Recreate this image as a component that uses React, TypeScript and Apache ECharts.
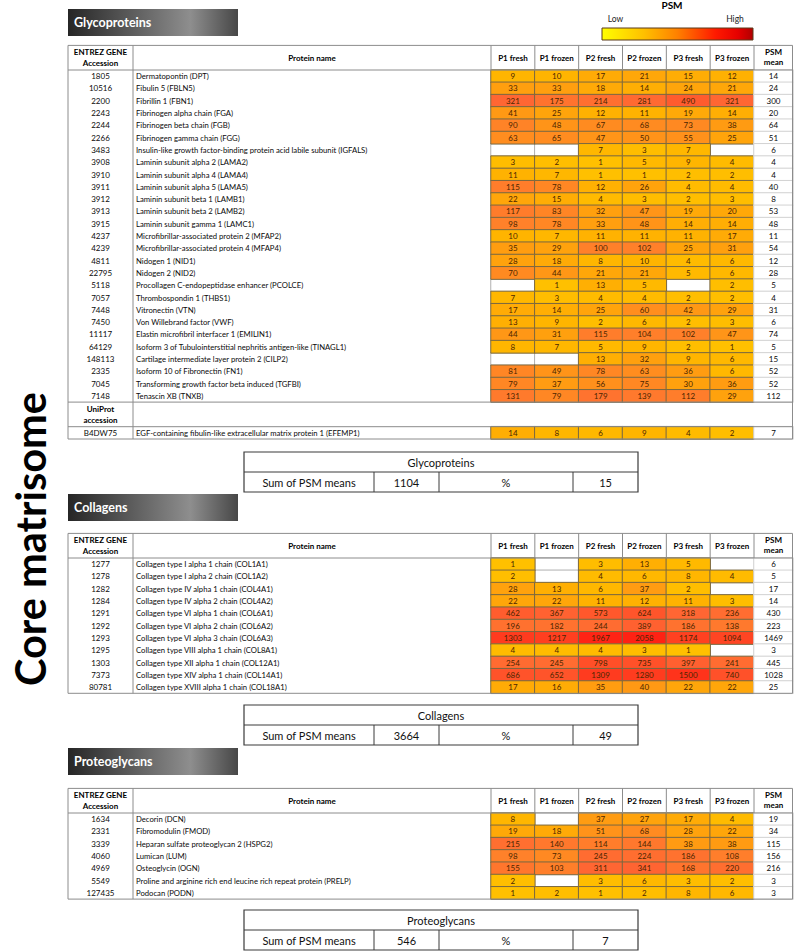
import React, { useEffect, useRef } from 'react';
import * as echarts from 'echarts';

const FONT = 'Lato, "Open Sans", sans-serif';

// ---------- DATA ----------
const sampleColumns = ['P1 fresh', 'P1 frozen', 'P2 fresh', 'P2 frozen', 'P3 fresh', 'P3 frozen'];
const meanColumn = ['PSM\nmean'];
const legendTitle = 'PSM';
const legendLabels = ['Low', 'High'];
const sideLabel = 'Core matrisome';

const glycoAccessions = ['1805', '10516', '2200', '2243', '2244', '2266', '3483', '3908', '3910', '3911', '3912', '3913', '3915', '4237', '4239', '4811', '22795', '5118', '7057', '7448', '7450', '11117', '64129', '148113', '2335', '7045', '7148', 'B4DW75'];
const glycoNames = [
  'Dermatopontin (DPT)',
  'Fibulin 5 (FBLN5)',
  'Fibrillin 1 (FBN1)',
  'Fibrinogen alpha chain (FGA)',
  'Fibrinogen beta chain (FGB)',
  'Fibrinogen gamma chain (FGG)',
  'Insulin-like growth factor-binding protein acid labile subunit (IGFALS)',
  'Laminin subunit alpha 2 (LAMA2)',
  'Laminin subunit alpha 4 (LAMA4)',
  'Laminin subunit alpha 5 (LAMA5)',
  'Laminin subunit beta 1 (LAMB1)',
  'Laminin subunit beta 2 (LAMB2)',
  'Laminin subunit gamma 1 (LAMC1)',
  'Microfibrillar-associated protein 2 (MFAP2)',
  'Microfibrillar-associated protein 4 (MFAP4)',
  'Nidogen 1 (NID1)',
  'Nidogen 2 (NID2)',
  'Procollagen C-endopeptidase enhancer (PCOLCE)',
  'Thrombospondin 1 (THBS1)',
  'Vitronectin (VTN)',
  'Von Willebrand factor (VWF)',
  'Elastin microfibril interfacer 1 (EMILIN1)',
  'Isoform 3 of Tubulointerstitial nephritis antigen-like (TINAGL1)',
  'Cartilage intermediate layer protein 2 (CILP2)',
  'Isoform 10 of Fibronectin (FN1)',
  'Transforming growth factor beta induced (TGFBI)',
  'Tenascin XB (TNXB)',
  'EGF-containing fibulin-like extracellular matrix protein 1 (EFEMP1)',
];
const glycoPSM: (number | null)[][] = [
  [9, 10, 17, 21, 15, 12],
  [33, 33, 18, 14, 24, 21],
  [321, 175, 214, 281, 490, 321],
  [41, 25, 12, 11, 19, 14],
  [90, 48, 67, 68, 73, 38],
  [63, 65, 47, 50, 55, 25],
  [null, null, 7, 3, 7, null],
  [3, 2, 1, 5, 9, 4],
  [11, 7, 1, 1, 2, 2],
  [115, 78, 12, 26, 4, 4],
  [22, 15, 4, 3, 2, 3],
  [117, 83, 32, 47, 19, 20],
  [98, 78, 33, 48, 14, 14],
  [10, 7, 11, 11, 11, 17],
  [35, 29, 100, 102, 25, 31],
  [28, 18, 8, 10, 4, 6],
  [70, 44, 21, 21, 5, 6],
  [null, 1, 13, 5, null, 2],
  [7, 3, 4, 4, 2, 2],
  [17, 14, 25, 60, 42, 29],
  [13, 9, 2, 6, 2, 3],
  [44, 31, 115, 104, 102, 47],
  [8, 7, 5, 9, 2, 1],
  [null, null, 13, 32, 9, 6],
  [81, 49, 78, 63, 36, 6],
  [79, 37, 56, 75, 30, 36],
  [131, 79, 179, 139, 112, 29],
  [14, 8, 6, 9, 4, 2],
];
const glycoMeans = [14, 24, 300, 20, 64, 51, 6, 4, 4, 40, 8, 53, 48, 11, 54, 12, 28, 5, 4, 31, 6, 74, 5, 15, 52, 52, 112, 7];
const glycoUniprotStart = 27;
const uniprotHeader = 'UniProt\naccession';

const collagenAccessions = ['1277', '1278', '1282', '1284', '1291', '1292', '1293', '1295', '1303', '7373', '80781'];
const collagenNames = [
  'Collagen type I alpha 1 chain (COL1A1)',
  'Collagen type I alpha 2 chain (COL1A2)',
  'Collagen type IV alpha 1 chain (COL4A1)',
  'Collagen type IV alpha 2 chain (COL4A2)',
  'Collagen type VI alpha 1 chain (COL6A1)',
  'Collagen type VI alpha 2 chain (COL6A2)',
  'Collagen type VI alpha 3 chain (COL6A3)',
  'Collagen type VIII alpha 1 chain (COL8A1)',
  'Collagen type XII alpha 1 chain (COL12A1)',
  'Collagen type XIV alpha 1 chain (COL14A1)',
  'Collagen type XVIII alpha 1 chain (COL18A1)',
];
const collagenPSM: (number | null)[][] = [
  [1, null, 3, 13, 5, null],
  [2, null, 4, 6, 8, 4],
  [28, 13, 6, 37, 2, null],
  [22, 22, 11, 12, 11, 3],
  [462, 367, 573, 624, 318, 236],
  [196, 182, 244, 389, 186, 138],
  [1303, 1217, 1967, 2058, 1174, 1094],
  [4, 4, 4, 3, 1, null],
  [254, 245, 798, 735, 397, 241],
  [686, 652, 1309, 1280, 1500, 740],
  [17, 16, 35, 40, 22, 22],
];
const collagenMeans = [6, 5, 17, 14, 430, 223, 1469, 3, 445, 1028, 25];

const proteoAccessions = ['1634', '2331', '3339', '4060', '4969', '5549', '127435'];
const proteoNames = [
  'Decorin (DCN)',
  'Fibromodulin (FMOD)',
  'Heparan sulfate proteoglycan 2 (HSPG2)',
  'Lumican (LUM)',
  'Osteoglycin (OGN)',
  'Proline and arginine rich end leucine rich repeat protein (PRELP)',
  'Podocan (PODN)',
];
const proteoPSM: (number | null)[][] = [
  [8, null, 37, 27, 17, 4],
  [19, 18, 51, 68, 28, 22],
  [215, 140, 114, 144, 38, 38],
  [98, 73, 245, 224, 186, 108],
  [155, 103, 311, 341, 168, 220],
  [2, null, 3, 6, 3, 2],
  [1, 2, 1, 2, 8, 6],
];
const proteoMeans = [19, 34, 115, 156, 216, 3, 3];

const sectionTitles = ['Glycoproteins', 'Collagens', 'Proteoglycans'];
const summaryLabel = 'Sum of PSM means';
const summarySums = [1104, 3664, 546];
const summaryPercents = [15, 49, 7];

// ---------- LAYOUT ----------
const ROW_H = 12.3;
const HEAD_H = 24.6;
const TABLE_L = 68;
const ACC_R = 133;
const NAME_R = 491;
const HEAT_R = 754;
const TABLE_R = 793;
const layouts = [
  { rowsTop: 70, bannerTop: 9, boxTop: 452 },
  { rowsTop: 558, bannerTop: 494, boxTop: 705 },
  { rowsTop: 813, bannerTop: 748, boxTop: 910 },
];
const BOX = { l: 244, d1: 374, d2: 439, d3: 573, r: 638, rowH: 20 };
const LINE = '#8c8c8c';
const CELL_TEXT = '#4d2600';
const BODY_TEXT = '#0a0a0a';

function buildOption() {
  const defs = [
    { acc: glycoAccessions, names: glycoNames, vals: glycoPSM, means: glycoMeans, spacerAt: glycoUniprotStart },
    { acc: collagenAccessions, names: collagenNames, vals: collagenPSM, means: collagenMeans, spacerAt: -1 },
    { acc: proteoAccessions, names: proteoNames, vals: proteoPSM, means: proteoMeans, spacerAt: -1 },
  ];
  const grids: any[] = [];
  const xAxes: any[] = [];
  const yAxes: any[] = [];
  const series: any[] = [];
  const graphics: any[] = [];
  const colorSeries: number[] = [];
  const whiteSeries: number[] = [];
  const colW = (HEAT_R - NAME_R) / sampleColumns.length;

  const hiddenAxis = { axisLine: { show: false }, axisTick: { show: false }, splitLine: { show: false } };

  defs.forEach((d, t) => {
    const L = layouts[t];
    const slots: number[] = [];
    d.acc.forEach((_, i) => {
      if (d.spacerAt === i) slots.push(-1, -1);
      slots.push(i);
    });
    const slotIds = slots.map((_, k) => 't' + t + 'r' + k);
    const gridH = slots.length * ROW_H;
    const headTop = L.rowsTop - HEAD_H;
    const bottom = L.rowsTop + gridH;

    const gHeat = grids.length;
    grids.push({ left: NAME_R, top: L.rowsTop, width: HEAT_R - NAME_R, height: gridH, outerBoundsMode: 'none' });
    grids.push({ left: HEAT_R, top: L.rowsTop, width: TABLE_R - HEAT_R, height: gridH, outerBoundsMode: 'none' });

    const xHeat = xAxes.length;
    xAxes.push({
      type: 'category', gridIndex: gHeat, position: 'top', data: sampleColumns, ...hiddenAxis,
      axisLabel: { interval: 0, margin: 8, fontSize: 8, fontWeight: 'bold', color: '#000', fontFamily: FONT },
    });
    xAxes.push({
      type: 'category', gridIndex: gHeat + 1, position: 'top', data: meanColumn, ...hiddenAxis,
      axisLabel: { interval: 0, margin: 3, fontSize: 8, lineHeight: 10, fontWeight: 'bold', color: '#000', fontFamily: FONT },
    });

    const yAcc = yAxes.length;
    yAxes.push({
      type: 'category', gridIndex: gHeat, position: 'left', inverse: true, data: slotIds, ...hiddenAxis,
      axisLabel: {
        interval: 0, align: 'center', margin: NAME_R - (TABLE_L + ACC_R) / 2, fontSize: 8, color: BODY_TEXT, fontFamily: FONT,
        formatter: (_v: string, k: number) => (slots[k] < 0 ? '' : d.acc[slots[k]]),
      },
    });
    yAxes.push({
      type: 'category', gridIndex: gHeat, position: 'left', inverse: true, data: slotIds, ...hiddenAxis,
      axisLabel: {
        interval: 0, align: 'left', margin: NAME_R - ACC_R - 3, fontSize: 7.7, color: BODY_TEXT, fontFamily: FONT,
        formatter: (_v: string, k: number) => (slots[k] < 0 ? '' : d.names[slots[k]]),
      },
    });
    yAxes.push({ type: 'category', gridIndex: gHeat + 1, inverse: true, data: slotIds, show: false });

    const blank: any[] = [];
    const colored: any[] = [];
    const meanData: any[] = [];
    slots.forEach((r, k) => {
      if (r < 0) return;
      d.vals[r].forEach((v, c) => {
        if (v == null) blank.push([c, k, 0]);
        else colored.push([c, k, Math.log10(v), v]);
      });
      meanData.push([0, k, d.means[r]]);
    });

    whiteSeries.push(series.length);
    series.push({
      type: 'heatmap', xAxisIndex: xHeat, yAxisIndex: yAcc, data: blank, silent: true,
      itemStyle: { color: '#ffffff', borderColor: '#b0b0b0', borderWidth: 1 },
      label: { show: false },
    });
    colorSeries.push(series.length);
    series.push({
      type: 'heatmap', xAxisIndex: xHeat, yAxisIndex: yAcc, data: colored, silent: true,
      itemStyle: { borderColor: '#7a6840', borderWidth: 1 },
      label: { show: true, fontSize: 8, color: CELL_TEXT, fontFamily: FONT, formatter: (p: any) => String(p.data[3]) },
    });
    whiteSeries.push(series.length);
    series.push({
      type: 'heatmap', xAxisIndex: xHeat + 1, yAxisIndex: yAcc + 2, data: meanData, silent: true,
      itemStyle: { color: '#ffffff', borderColor: '#d2d2d2', borderWidth: 1 },
      label: { show: true, fontSize: 8, color: BODY_TEXT, fontFamily: FONT, formatter: (p: any) => String(p.data[2]) },
    });

    // banner
    graphics.push({
      type: 'rect', shape: { x: 68, y: L.bannerTop, width: 170, height: 27 },
      style: {
        fill: { type: 'linear', x: 0, y: 0, x2: 1, y2: 0, colorStops: [
          { offset: 0, color: '#262626' }, { offset: 0.72, color: '#8e8e8e' }, { offset: 1, color: '#474747' },
        ] },
      },
    });
    graphics.push({
      type: 'text', x: 74, y: L.bannerTop + 13.5,
      style: { text: sectionTitles[t], fill: '#fff', fontSize: 12.5, fontWeight: 'bold', fontFamily: FONT, verticalAlign: 'middle', align: 'left' },
    });

    // table frame
    const ln = (x1: number, y1: number, x2: number, y2: number, stroke = LINE) => ({
      type: 'line', z: 10, shape: { x1, y1, x2, y2 }, style: { stroke, lineWidth: 1 },
    });
    graphics.push({ type: 'rect', z: 10, shape: { x: TABLE_L, y: headTop, width: TABLE_R - TABLE_L - 0.5, height: bottom - headTop }, style: { fill: 'none', stroke: LINE, lineWidth: 1 } });
    graphics.push(ln(TABLE_L, L.rowsTop, TABLE_R, L.rowsTop));
    graphics.push(ln(ACC_R, headTop, ACC_R, bottom));
    for (let c = 0; c <= sampleColumns.length; c++) {
      const x = NAME_R + c * colW;
      graphics.push(ln(x, headTop, x, L.rowsTop));
    }
    graphics.push({
      type: 'text', z: 11, x: (TABLE_L + ACC_R) / 2, y: headTop + HEAD_H / 2,
      style: { text: 'ENTREZ GENE\nAccession', fill: '#000', fontSize: 8, lineHeight: 11, fontWeight: 'bold', fontFamily: FONT, align: 'center', verticalAlign: 'middle' },
    });
    graphics.push({
      type: 'text', z: 11, x: (ACC_R + NAME_R) / 2, y: headTop + HEAD_H / 2,
      style: { text: 'Protein name', fill: '#000', fontSize: 8, fontWeight: 'bold', fontFamily: FONT, align: 'center', verticalAlign: 'middle' },
    });
    if (d.spacerAt >= 0) {
      const yTop = L.rowsTop + d.spacerAt * ROW_H;
      const yBot = yTop + 2 * ROW_H;
      graphics.push(ln(TABLE_L, yTop, TABLE_R, yTop));
      graphics.push(ln(TABLE_L, yBot, TABLE_R, yBot));
      graphics.push({
        type: 'text', z: 11, x: (TABLE_L + ACC_R) / 2, y: (yTop + yBot) / 2,
        style: { text: uniprotHeader, fill: '#000', fontSize: 8, lineHeight: 11, fontWeight: 'bold', fontFamily: FONT, align: 'center', verticalAlign: 'middle' },
      });
    }

    // summary box
    const b0 = L.boxTop;
    const b1 = b0 + BOX.rowH;
    const b2 = b1 + BOX.rowH;
    const box = '#3a3a3a';
    graphics.push({ type: 'rect', z: 10, shape: { x: BOX.l, y: b0, width: BOX.r - BOX.l, height: b2 - b0 }, style: { fill: '#fff', stroke: box, lineWidth: 1.2 } });
    graphics.push(ln(BOX.l, b1, BOX.r, b1, box));
    [BOX.d1, BOX.d2, BOX.d3].forEach((x) => graphics.push(ln(x, b1, x, b2, box)));
    const txt = (text: string, x: number, y: number) => ({
      type: 'text', z: 11, x, y,
      style: { text, fill: '#111', fontSize: 11, fontFamily: FONT, align: 'center', verticalAlign: 'middle' },
    });
    graphics.push(txt(sectionTitles[t], (BOX.l + BOX.r) / 2, (b0 + b1) / 2));
    graphics.push(txt(summaryLabel, (BOX.l + BOX.d1) / 2, (b1 + b2) / 2));
    graphics.push(txt(String(summarySums[t]), (BOX.d1 + BOX.d2) / 2, (b1 + b2) / 2));
    graphics.push(txt('%', (BOX.d2 + BOX.d3) / 2, (b1 + b2) / 2));
    graphics.push(txt(String(summaryPercents[t]), (BOX.d3 + BOX.r) / 2, (b1 + b2) / 2));
  });

  // PSM legend
  graphics.push({
    type: 'text', x: 672, y: 5,
    style: { text: legendTitle, fill: '#000', fontSize: 10, fontWeight: 'bold', fontFamily: FONT, align: 'center', verticalAlign: 'middle' },
  });
  graphics.push({
    type: 'text', x: 615.5, y: 19,
    style: { text: legendLabels[0], fill: '#222', fontSize: 8.5, fontFamily: FONT, align: 'center', verticalAlign: 'middle' },
  });
  graphics.push({
    type: 'text', x: 735, y: 19,
    style: { text: legendLabels[1], fill: '#222', fontSize: 8.5, fontFamily: FONT, align: 'center', verticalAlign: 'middle' },
  });
  graphics.push({
    type: 'rect', shape: { x: 602, y: 28, width: 151, height: 12 },
    style: {
      stroke: '#5a3a1a', lineWidth: 1,
      fill: { type: 'linear', x: 0, y: 0, x2: 1, y2: 0, colorStops: [
        { offset: 0, color: '#ffff00' }, { offset: 0.28, color: '#ffbf00' }, { offset: 0.5, color: '#ff8000' },
        { offset: 0.75, color: '#ff1a00' }, { offset: 0.9, color: '#e60000' }, { offset: 1, color: '#b00000' },
      ] },
    },
  });

  // side label
  graphics.push({
    type: 'text', x: 30, y: 539, rotation: Math.PI / 2,
    style: { text: sideLabel, fill: '#000', fontSize: 41.5, fontWeight: 'bold', fontFamily: FONT, align: 'center', verticalAlign: 'middle' },
  });

  return {
    animation: false,
    backgroundColor: '#ffffff',
    textStyle: { fontFamily: FONT },
    grid: grids,
    xAxis: xAxes,
    yAxis: yAxes,
    visualMap: [
      {
        type: 'continuous', show: false, dimension: 2, min: 0, max: 3.5, seriesIndex: colorSeries,
        inRange: { color: ['#ffc000', '#ffbd00', '#ffb400', '#ffa00e', '#ff802a', '#ff6633', '#ff4a25', '#ff0a0a'] },
      },
      {
        type: 'continuous', show: false, dimension: 2, min: 0, max: 100000, seriesIndex: whiteSeries,
        inRange: { color: ['#ffffff', '#ffffff'] }, outOfRange: { color: ['#ffffff'] },
      },
    ],
    series,
    graphic: { elements: graphics },
  };
}

export default function App() {
  const ref = useRef<HTMLDivElement>(null);
  useEffect(() => {
    if (!ref.current) return;
    const chart = echarts.init(ref.current, undefined, { renderer: 'svg' });
    chart.setOption(buildOption() as any);
    return () => chart.dispose();
  }, []);
  return <div ref={ref} style={{ position: 'absolute', left: 0, top: 0, width: 794, height: 951 }} />;
}
